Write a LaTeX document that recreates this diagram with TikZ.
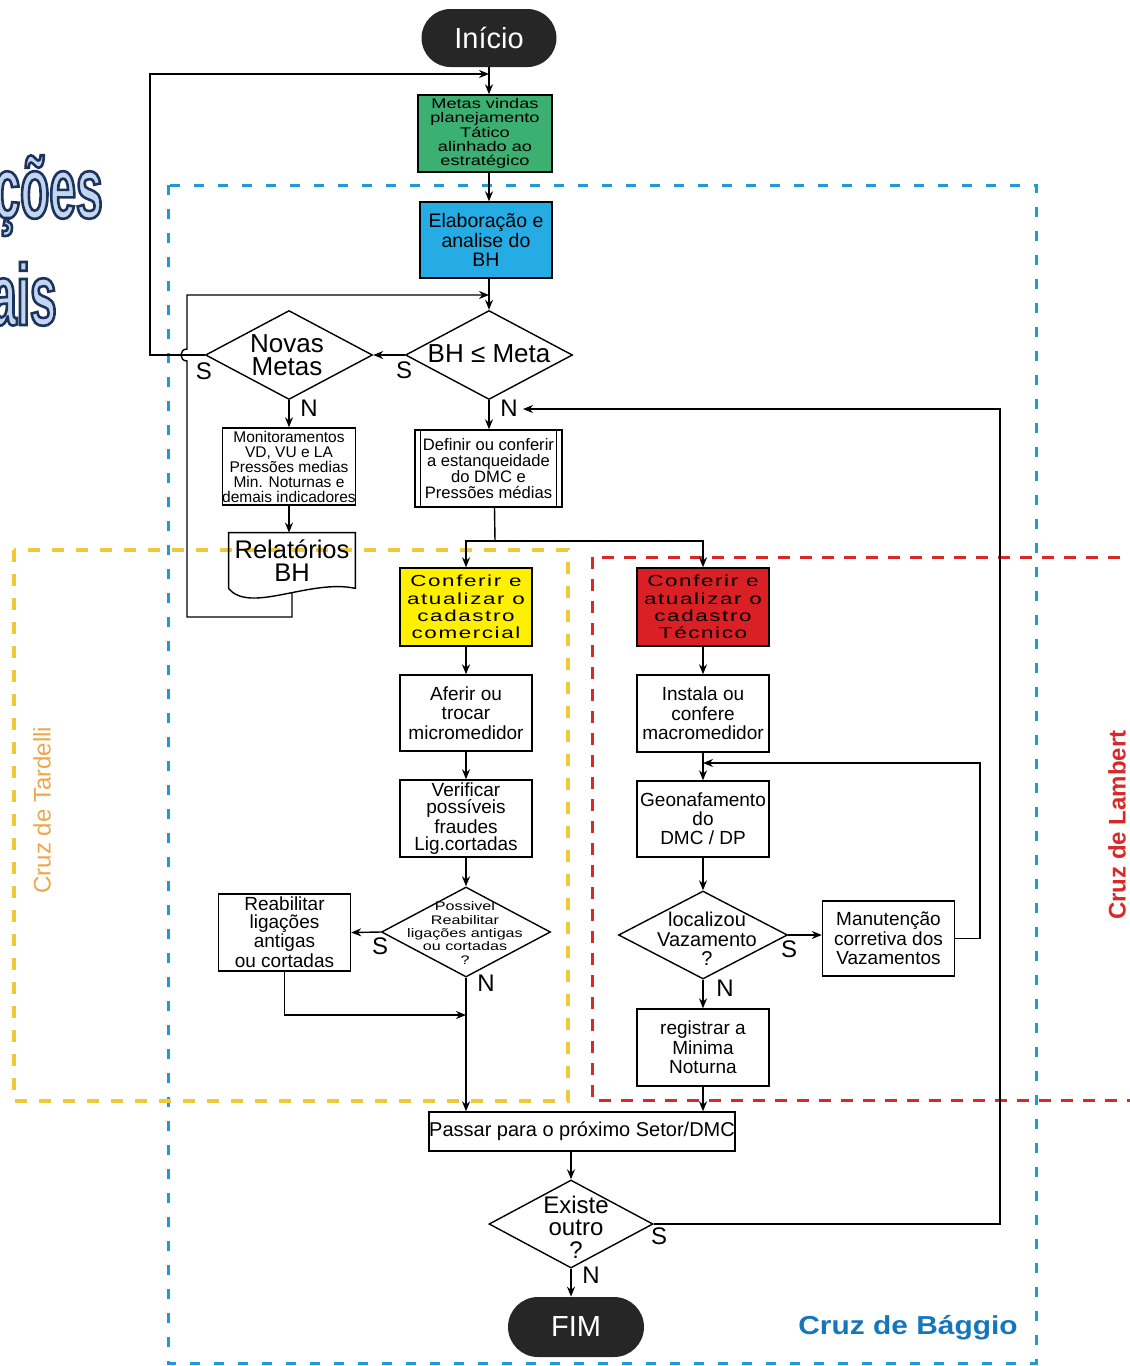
\documentclass[tikz,border=0pt]{standalone}
\usepackage{fontspec}
\setmainfont{Liberation Sans}
\newfontfamily\widefont[FakeStretch=1.3]{Liberation Sans}
\newfontfamily\spacedfont[FakeStretch=1.4,LetterSpace=10]{Liberation Sans}
\newfontfamily\zonefont[FakeStretch=1.15]{Liberation Sans}
\newfontfamily\titlefont[FakeStretch=0.55,FakeBold=3]{Liberation Sans Bold}
\usetikzlibrary{shapes.geometric,shapes.misc,arrows.meta}
\definecolor{metasgreen}{RGB}{60,176,112}
\definecolor{bhblue}{RGB}{38,172,228}
\definecolor{cadyellow}{RGB}{255,240,0}
\definecolor{tecred}{RGB}{218,32,36}
\definecolor{termgray}{RGB}{38,38,38}
\definecolor{baggioblue}{RGB}{30,155,215}
\definecolor{baggiotext}{RGB}{22,118,188}
\definecolor{tardelli}{RGB}{240,200,60}
\definecolor{tardellitext}{RGB}{236,168,72}
\definecolor{lambert}{RGB}{218,40,40}
\definecolor{titlefill}{RGB}{196,214,238}
% navy outline of the title letters (stroke colour only)
\newcommand{\navystroke}{\special{pdf:literal direct 0.11 0.20 0.37 RG}}
\tikzset{
  box/.style={draw, line width=0.7pt, fill=white, align=center, inner sep=0pt,
    minimum width=66pt, minimum height=38.5pt, font=\fontsize{9.5}{9.75}\selectfont},
  dec/.style={diamond, draw, line width=0.7pt, fill=white, inner sep=0pt,
    minimum width=84pt, minimum height=44.5pt},
  dectext/.style={align=center, inner sep=0pt},
  term/.style={rounded rectangle, fill=termgray, text=white, inner sep=0pt,
    minimum width=67.5pt, minimum height=29pt, font=\fontsize{14.5}{16}\selectfont},
  yn/.style={inner sep=0pt, font=\fontsize{12}{12}\selectfont},
  flow/.style={>={Stealth[length=5pt,width=4pt]}, ->, line width=0.7pt},
  link/.style={line width=0.7pt},
  zone/.style={line width=1.5pt, dash pattern=on 5pt off 7pt},
  titletext/.style={anchor=base east, inner sep=0pt, text=titlefill,
    font={\titlefont\fontsize{43.5}{44}\selectfont}},
}
\begin{document}
\begin{tikzpicture}[x=0.5pt, y=-0.5pt]
\useasboundingbox (0,0) rectangle (1130,1366);
\clip (0,0) rectangle (1130,1366);
% left over of the slide title
\node[titletext] (tA) at (103,218) {\navystroke ções};
\node[titletext] (tB) at (57,325) {\navystroke ais};

% the three zones
\draw[zone, baggioblue] (168,185) rectangle (1036,1363);
\draw[zone, tardelli, line width=2pt, dash pattern=on 6pt off 6pt] (14,550) rectangle (568,1101);
\draw[zone, lambert, dash pattern=on 6pt off 5pt] (592,557) rectangle (1160,1100);
\node[rotate=90, text=tardellitext, font=\fontsize{12}{12}\selectfont] (tard) at (42,810) {Cruz de Tardelli};
\node[rotate=90, text=lambert, font=\fontsize{12}{12}\selectfont\bfseries] (lamb) at (1117,825) {Cruz de Lambert};
\node[text=baggiotext, font={\zonefont\bfseries\fontsize{13}{13}\selectfont}] (bagg) at (908,1328) {Cruz de Bággio};

% top part
\node[term] (ini) at (489,38) {Início};
\node[box, fill=metasgreen, minimum width=67pt, font={\widefont\fontsize{7}{7.1}\selectfont}] (meta) at (485,133.5)
  {Metas vindas\\planejamento\\Tático\\alinhado ao\\estratégico};
\node[box, fill=bhblue, minimum height=38pt, font=\fontsize{9.75}{9.75}\selectfont] (elab) at (486,240) {Elaboração e\\analise do\\BH};
\node[dec, minimum width=83.5pt] (bh) at (489,355) {};
\node[dectext, font=\fontsize{13}{11.5}\selectfont] (bhT) at (489,354) {BH ≤ Meta};
\node[dec, minimum width=83.5pt] (nm) at (289,355) {};
\node[dectext, font=\fontsize{13}{11.5}\selectfont] (nmT) at (287,355) {Novas\\Metas};
\node[box, font=\fontsize{7.75}{7.5}\selectfont] (mon) at (289,466.5)
  {Monitoramentos\\VD, VU e LA\\Pressões medias\\Min. Noturnas e\\demais indicadores};
\node[box, minimum width=73.5pt, font=\fontsize{8.3}{8}\selectfont] (def) at (488.5,468.5)
  {Definir ou conferir\\a estanqueidade\\do DMC e\\Pressões médias};
\draw[link] ([xshift=3pt]def.north west) -- ([xshift=3pt]def.south west);
\draw[link] ([xshift=-3pt]def.north east) -- ([xshift=-3pt]def.south east);
\node[minimum width=63pt, minimum height=27.5pt, inner sep=0pt, align=center,
  font=\fontsize{12.75}{11.5}\selectfont] (rel) at (292,560.5) {Relatórios\\BH};
\draw[link] (rel.south west) -- (rel.north west) -- (rel.north east) -- (rel.south east)
  .. controls +(-45,-10) and +(21,26) .. (rel.south west);

% cadastro comercial
\node[box, fill=cadyellow, minimum height=39pt, font={\spacedfont\fontsize{8}{8.65}\selectfont}] (com) at (466,607)
  {Conferir e\\atualizar o\\cadastro\\comercial};
\node[box, minimum height=38pt] (afe) at (466,713) {Aferir ou\\trocar\\micromedidor};
\node[box, font=\fontsize{9.5}{8.65}\selectfont] (ver) at (466,818.5) {Verificar\\possíveis\\fraudes\\Lig.cortadas};
\node[dec, minimum width=84.5pt, minimum height=45pt] (pos) at (466,932) {};
\node[dectext, font={\widefont\fontsize{6.2}{6.65}\selectfont}] (posT) at (465,933)
  {Possivel\\Reabilitar\\ligações antigas\\ou cortadas\\?};
\node[box, font=\fontsize{9.5}{8.65}\selectfont] (reab) at (284.5,932.5) {Reabilitar\\ligações\\antigas\\ou cortadas};

% cadastro tecnico
\node[box, fill=tecred, minimum height=39pt, font={\spacedfont\fontsize{8}{8.65}\selectfont}] (tec) at (703,607)
  {Conferir e\\atualizar o\\cadastro\\Técnico};
\node[box] (ins) at (703,713.5) {Instala ou\\confere\\macromedidor};
\node[box, minimum height=38pt, font=\fontsize{9.5}{9.5}\selectfont] (geo) at (703,819) {Geonafamento\\do\\DMC / DP};
\node[dec, minimum width=84.5pt, minimum height=44pt] (loc) at (703,935) {};
\node[dectext, font=\fontsize{10}{9.75}\selectfont] (locT) at (707,939) {localizou\\Vazamento\\?};
\node[box, minimum height=37.5pt] (man) at (888.5,938.5) {Manutenção\\corretiva dos\\Vazamentos};
\node[box] (reg) at (703,1047.5) {registrar a\\Minima\\Noturna};

% bottom part
\node[box, minimum width=149pt, minimum height=19.5pt, font=\fontsize{10}{10}\selectfont] (pas) at (582,1131.5)
  {Passar para o próximo Setor/DMC};
\node[dec, minimum width=82pt, minimum height=44pt] (ex) at (571,1224) {};
\node[dectext, font=\fontsize{12}{11.25}\selectfont] (exT) at (576,1227) {Existe\\outro\\?};
\node[term, minimum width=68pt, minimum height=30pt] (fim) at (576,1327) {FIM};

% S / N
\node[yn] (bhS) at (404,370) {S};
\node[yn] (bhN) at (509,408) {N};
\node[yn] (nmS) at (204,371) {S};
\node[yn] (nmN) at (309,408) {N};
\node[yn] (posS) at (380,946) {S};
\node[yn] (posN) at (486,983) {N};
\node[yn] (locS) at (789,949) {S};
\node[yn] (locN) at (725,988) {N};
\node[yn] (exS) at (659,1236) {S};
\node[yn] (exN) at (591,1275) {N};

% connectors
\coordinate (topin) at (489,74);
\coordinate (loopL) at (150,74);
\coordinate (bhin) at (489,295);
\coordinate (relL) at (187,617);
\coordinate (hopB) at (187,361);
\coordinate (hopT) at (187,349);
\coordinate (split) at (495,541);
\coordinate (reabJ) at (466,1015);
\coordinate (manR) at (980,763);
\coordinate (exR) at (1000,409);
\coordinate (backN) at (523,409);
\draw[flow] (ini.south) -- (ini.south |- meta.north);
\draw[flow] (nm.west) -| (loopL) -- (topin);
\draw[flow] (ini.south |- meta.south) -- (ini.south |- elab.north);
\draw[flow] (ini.south |- elab.south) -- (bh.north);
\draw[flow] ([yshift=-2pt]rel.south) -- (rel.south |- relL) -- (relL) -- (hopB)
  .. controls (179,361) and (179,349) .. (hopT) |- (bhin);
\draw[flow] (bh.west) -- (nm.east);
\draw[flow] (nm.south) -- (nm.south |- mon.north);
\draw[flow] (mon.south) -- (mon.south |- rel.north);
\draw[flow] (bh.south) -- (bh.south |- def.north);
\draw[link] ([xshift=3pt]def.south) -- (split);
\draw[flow] (split) -| (com.north);
\draw[flow] (split) -| (tec.north);
\draw[flow] (com.south) -- (afe.north);
\draw[flow] (afe.south) -- (ver.north);
\draw[flow] (ver.south) -- (pos.north);
\draw[flow] (pos.west) -- (reab.east);
\draw[flow] (reab.south) |- (reabJ);
\draw[flow] (pos.south) -- (pos.south |- pas.north);
\draw[flow] (tec.south) -- (ins.north);
\draw[flow] (ins.south) -- (geo.north);
\draw[flow] (geo.south) -- (loc.north);
\draw[flow] (loc.east) -- (loc.east -| man.west);
\draw[flow] (man.east) -| (manR) -- (geo.north |- manR);
\draw[flow] (loc.south) -- (reg.north);
\draw[flow] (reg.south) -- (reg.south |- pas.north);
\draw[flow] (ex.north |- pas.south) -- (ex.north);
\draw[flow] (ex.east) -| (exR) -- (backN);
\draw[flow] (ex.south) -- (ex.south |- fim.north);
\end{tikzpicture}
\end{document}
